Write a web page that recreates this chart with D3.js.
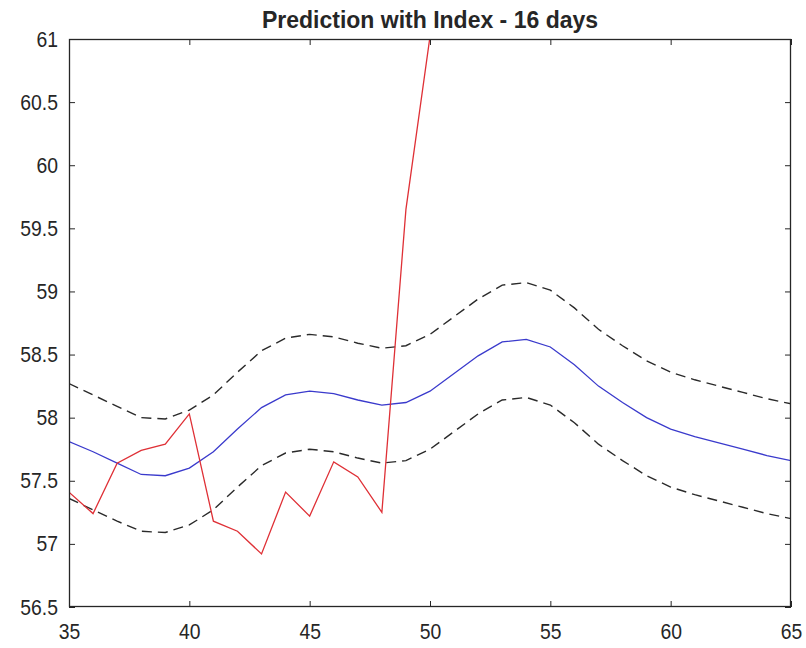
<!DOCTYPE html>
<html>
<head>
<meta charset="utf-8">
<script src="https://cdn.jsdelivr.net/npm/d3@7"></script>
<style>
  html, body { margin: 0; padding: 0; background: #fff; }
  svg { display: block; }
  text { font-family: "Liberation Sans", Arial, Helvetica, sans-serif; fill: #262626; }
  .y-labels .tick text { transform-box: fill-box; transform-origin: right center; transform: scaleX(0.88); }
  .x-labels .tick text { transform-box: fill-box; transform-origin: center center; transform: scaleX(0.88); }
</style>
</head>
<body>
<svg id="chart" width="806" height="648"></svg>
<script>
// Day index for the forecast window
const days = [35, 36, 37, 38, 39, 40, 41, 42, 43, 44, 45, 46, 47, 48, 49, 50,
              51, 52, 53, 54, 55, 56, 57, 58, 59, 60, 61, 62, 63, 64, 65];

// Model prediction (blue)
const predicted = [57.81, 57.73, 57.64, 57.55, 57.54, 57.60, 57.73, 57.91, 58.08, 58.18,
                   58.21, 58.19, 58.14, 58.10, 58.12, 58.21, 58.35, 58.49, 58.60, 58.62,
                   58.56, 58.42, 58.25, 58.12, 58.00, 57.91, 57.85, 57.80, 57.75, 57.70, 57.66];

// Upper and lower confidence bounds (black dashed)
const upperBound = [58.27, 58.18, 58.09, 58.00, 57.99, 58.06, 58.18, 58.36, 58.53, 58.63,
                    58.66, 58.64, 58.59, 58.55, 58.57, 58.66, 58.80, 58.94, 59.05, 59.07,
                    59.01, 58.87, 58.70, 58.57, 58.45, 58.36, 58.30, 58.25, 58.20, 58.15, 58.11];
const lowerBound = [57.36, 57.27, 57.18, 57.10, 57.09, 57.15, 57.27, 57.45, 57.62, 57.72,
                    57.75, 57.73, 57.68, 57.64, 57.66, 57.75, 57.89, 58.03, 58.14, 58.16,
                    58.10, 57.96, 57.79, 57.66, 57.54, 57.45, 57.39, 57.34, 57.29, 57.24, 57.20];

// Observed values (red)
const observedDays = [35, 36, 37, 38, 39, 40, 41, 42, 43, 44, 45, 46, 47, 48, 49, 50];
const observed = [57.41, 57.24, 57.64, 57.74, 57.79, 58.03, 57.18, 57.10, 56.92, 57.41,
                  57.22, 57.65, 57.53, 57.25, 59.65, 61.02];

// Axis ticks
const xTicks = [35, 40, 45, 50, 55, 60, 65];
const yTicks = [56.5, 57, 57.5, 58, 58.5, 59, 59.5, 60, 60.5, 61];

const titleText = "Prediction with Index - 16 days";

const svg = d3.select("#chart");
const plot = { left: 69, right: 791, top: 39, bottom: 607 };

const x = d3.scaleLinear().domain([35, 65]).range([plot.left, plot.right]);
const y = d3.scaleLinear().domain([56.5, 61]).range([plot.bottom, plot.top]);

svg.append("defs").append("clipPath").attr("id", "plot-clip")
  .append("rect")
  .attr("x", plot.left).attr("y", plot.top)
  .attr("width", plot.right - plot.left).attr("height", plot.bottom - plot.top);

const lines = svg.append("g").attr("clip-path", "url(#plot-clip)");

const lineGen = (xs, ys) => d3.line()
  .x((d, i) => x(xs[i]))
  .y((d, i) => y(ys[i]))(ys);

// Confidence bounds
[upperBound, lowerBound].forEach(b => {
  lines.append("path")
    .attr("d", lineGen(days, b))
    .attr("fill", "none")
    .attr("stroke", "#2a2a2a")
    .attr("stroke-width", 1.4)
    .attr("stroke-dasharray", "10,6");
});

// Prediction
lines.append("path")
  .attr("d", lineGen(days, predicted))
  .attr("fill", "none")
  .attr("stroke", "#3a3acc")
  .attr("stroke-width", 1.3);

// Observed
lines.append("path")
  .attr("d", lineGen(observedDays, observed))
  .attr("fill", "none")
  .attr("stroke", "#df3036")
  .attr("stroke-width", 1.3);

// Axes: inward ticks on all four sides, box outline
const tickLen = 6;
const axisColor = "#262626";

const bottomAxis = d3.axisBottom(x).tickValues(xTicks).tickSize(-tickLen).tickPadding(16)
  .tickFormat(d3.format("d"));
const topAxis = d3.axisTop(x).tickValues(xTicks).tickSize(-tickLen).tickFormat("");
const leftAxis = d3.axisLeft(y).tickValues(yTicks).tickSize(-tickLen).tickPadding(11)
  .tickFormat(d => d3.format("")(d));
const rightAxis = d3.axisRight(y).tickValues(yTicks).tickSize(-tickLen).tickFormat("");

function styleAxis(g) {
  g.select(".domain").remove();
  g.selectAll(".tick line").attr("stroke", axisColor).attr("stroke-width", 1);
  g.selectAll(".tick text")
    .attr("fill", axisColor)
    .style("font-size", "22px");
}

svg.append("g").attr("class", "x-labels")
  .attr("transform", `translate(0,${plot.bottom})`).call(bottomAxis).call(styleAxis);
svg.append("g").attr("transform", `translate(0,${plot.top})`).call(topAxis).call(styleAxis);
svg.append("g").attr("class", "y-labels")
  .attr("transform", `translate(${plot.left},0)`).call(leftAxis).call(styleAxis);
svg.append("g").attr("transform", `translate(${plot.right},0)`).call(rightAxis).call(styleAxis);

svg.append("rect")
  .attr("x", plot.left + 0.5).attr("y", plot.top + 0.5)
  .attr("width", plot.right - plot.left - 1).attr("height", plot.bottom - plot.top - 1)
  .attr("fill", "none")
  .attr("stroke", axisColor)
  .attr("stroke-width", 1.3);

// Title
svg.append("text")
  .attr("x", (plot.left + plot.right) / 2)
  .attr("y", 28)
  .attr("text-anchor", "middle")
  .style("font-size", "23px")
  .style("font-weight", "bold")
  .attr("fill", "#000")
  .text(titleText);
</script>
</body>
</html>
